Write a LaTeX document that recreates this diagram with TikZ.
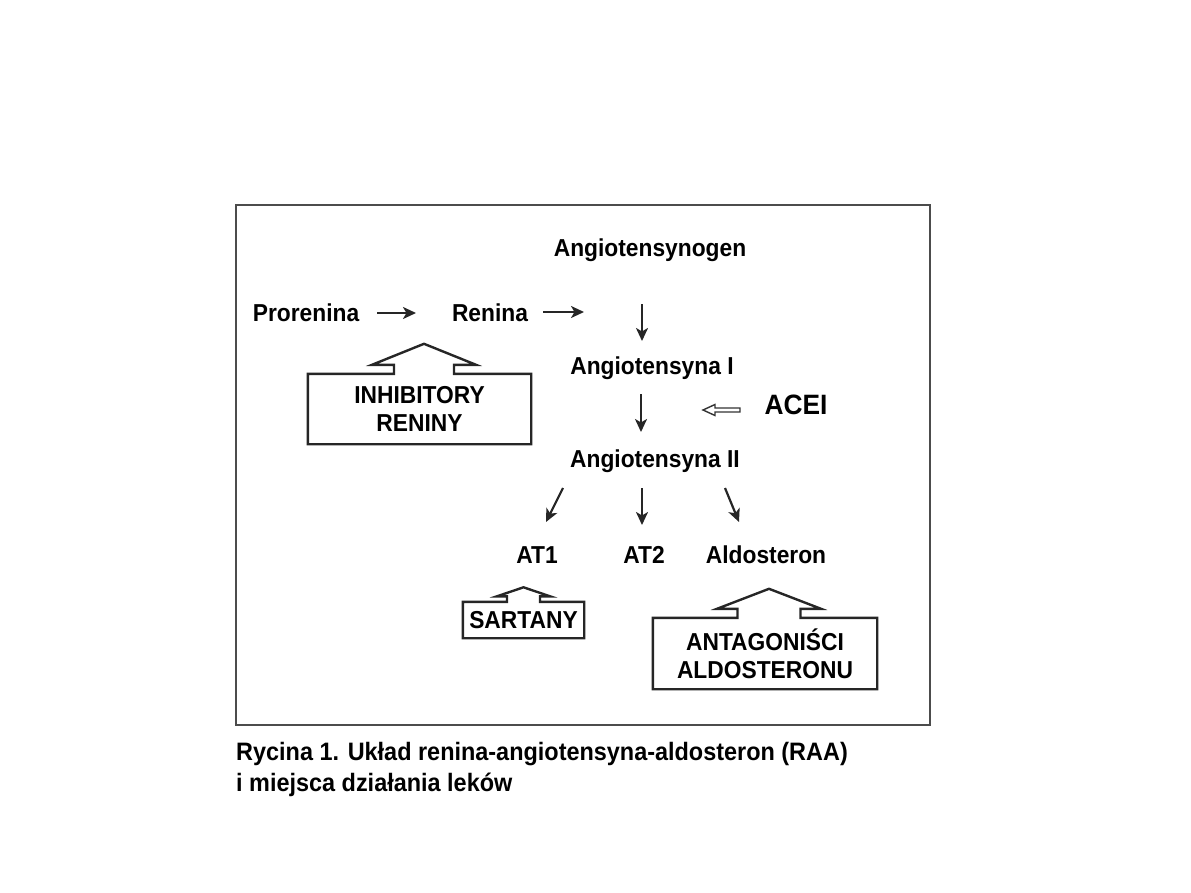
\documentclass[tikz,border=0pt]{standalone}
\usepackage{fontspec}
\setmainfont[FakeStretch=0.93]{Liberation Sans}
\newfontfamily\narrowsans[FakeStretch=0.94]{Liberation Sans}
\usetikzlibrary{calc,arrows.meta}
\newcommand{\drugbox}[6]{% node, shift of arrow, stem half, wing half, stem height, head height
  \draw[outl] (#1.north west) -- ($(#1.north)+(#2-#3,0)$) -- ++(0,-#5)
    -- ($(#1.north)+(#2-#4,-#5)$) -- ($(#1.north)+(#2,-#5-#6)$)
    -- ($(#1.north)+(#2+#4,-#5)$) -- ($(#1.north)+(#2+#3,-#5)$)
    -- ($(#1.north)+(#2+#3,0)$) -- (#1.north east) -- (#1.south east)
    -- (#1.south west) -- cycle;}
\tikzset{
  lbl/.style={font=\fontsize{24.5}{28}\selectfont\bfseries,inner sep=0pt,anchor=base},
  big/.style={font=\narrowsans\fontsize{28}{30}\selectfont\bfseries,inner sep=0pt,anchor=base},
  drug/.style={font=\fontsize{24.5}{28}\selectfont\bfseries,inner sep=0pt,align=center},
  capt/.style={font=\fontsize{25.2}{30}\selectfont\bfseries,inner sep=0pt,anchor=base west},
  flow/.style={-{Stealth[length=13pt,width=12pt,inset=3.5pt]},line width=2.2pt,black!85},
  outl/.style={line width=2.4pt,black!85,line join=miter},
  hollow/.style={line width=1.4pt,black!80,fill=white},
  frame/.style={line width=1.8pt,black!70},
}
\begin{document}
\begin{tikzpicture}[x=1pt,y=-1pt]
  \useasboundingbox (0,0) rectangle (1191,893);
  \draw[frame] (236,205) rectangle (930,725);

  % cascade
  \node[lbl] (agen) at (650,257) {Angiotensynogen};
  \node[lbl] (pro) at (306,321) {Prorenina};
  \node[lbl] (ren) at (490,321) {Renina};
  \node[lbl] (ang1) at (652,374) {Angiotensyna I};
  \node[lbl] (ang2) at (655,467) {Angiotensyna II};
  \node[big] (acei) at (796,414) {ACEI};
  \node[lbl] (at1) at (537,563) {AT1};
  \node[lbl] (at2) at (644,563) {AT2};
  \node[lbl] (ald) at (766,563) {Aldosteron};

  \coordinate (h1a) at (377,313); \coordinate (h1b) at (416,313);
  \coordinate (h2a) at (543,312); \coordinate (h2b) at (584,312);
  \coordinate (v1a) at (642,304); \coordinate (v1b) at (642,341);
  \coordinate (v2a) at (641,394); \coordinate (v2b) at (641,432);
  \coordinate (d1a) at (563,488); \coordinate (d1b) at (546,522);
  \coordinate (d2a) at (642,488); \coordinate (d2b) at (642,525);
  \coordinate (d3a) at (725,488); \coordinate (d3b) at (739,522);
  \draw[flow] (h1a) -- (h1b);
  \draw[flow] (h2a) -- (h2b);
  \draw[flow] (v1a) -- (v1b);
  \draw[flow] (v2a) -- (v2b);
  \draw[flow] (d1a) -- (d1b);
  \draw[flow] (d2a) -- (d2b);
  \draw[flow] (d3a) -- (d3b);

  % ACEI blocks the conversion
  \coordinate (acetip) at (703,410);
  \draw[hollow] (acetip) -- ++(12,-5.5) -- ++(0,3.5) -- ++(25,0) -- ++(0,4)
    -- ++(-25,0) -- ++(0,3.5) -- cycle;

  % drug classes
  \node[drug,minimum width=223pt,minimum height=70pt] (inh) at (419.5,409) {INHIBITORY\\RENINY};
  \node[drug,minimum width=121pt,minimum height=36pt] (sar) at (523.5,620) {SARTANY};
  \node[drug,minimum width=224pt,minimum height=71pt] (ant) at (765,653.5) {ANTAGONIŚCI\\ALDOSTERONU};
  \drugbox{inh}{4.5}{30}{52}{9}{21}
  \drugbox{sar}{0}{16.5}{26.5}{5.5}{9}
  \drugbox{ant}{4}{31.5}{52}{9}{20}

  % caption
  \node[capt] (cap1) at (236,760) {Rycina 1. Układ renina-angiotensyna-aldosteron (RAA)};
  \node[capt] (cap2) at (236,791) {i miejsca działania leków};
\end{tikzpicture}
\end{document}
